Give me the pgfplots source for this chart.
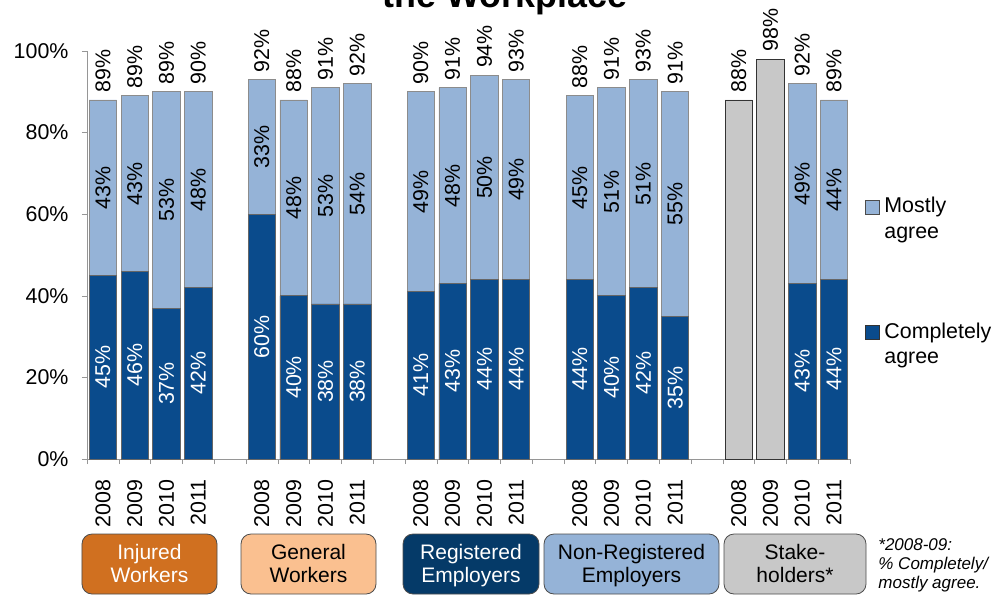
\documentclass[border=0pt]{standalone}
\usepackage{fontspec}
\setmainfont{Liberation Sans}
\usepackage{pgfplots}
\usepackage{pgfplotstable}
\pgfplotsset{compat=1.18}

\definecolor{darkbar}{RGB}{10,75,140}
\definecolor{lightbar}{RGB}{149,179,215}
\definecolor{greybar}{RGB}{200,200,200}
\definecolor{injured}{RGB}{208,112,32}
\definecolor{general}{RGB}{250,192,144}
\definecolor{registered}{RGB}{5,58,104}
\definecolor{axisgrey}{RGB}{150,150,150}

% x = slot, c = completely agree, m = mostly agree, t = total label
\pgfplotstableread{
x c m t
0 45 43 89
1 46 43 89
2 37 53 89
3 42 48 90
5 60 33 92
6 40 48 88
7 38 53 91
8 38 54 92
10 41 49 90
11 43 48 91
12 44 50 94
13 44 49 93
15 44 45 88
16 40 51 91
17 42 51 93
18 35 55 91
22 43 49 92
23 44 44 89
}\agree

% stakeholders 2008-09: completely/mostly combined
\pgfplotstableread{
x t
20 88
21 98
}\stake

\begin{document}
\fontsize{10.7pt}{12.8pt}\selectfont
\begin{tikzpicture}
\begin{axis}[
    scale only axis,
    width=381.5pt, height=204pt,
    xmin=-0.5, xmax=23.5,
    ymin=0, ymax=100,
    axis x line*=bottom,
    axis y line*=left,
    axis line style={axisgrey},
    clip=false,
    ytick={0,20,40,60,80,100},
    yticklabel={\pgfmathprintnumber{\tick}\%},
    /pgf/number format/assume math mode=true,
    major tick length=2.5pt,
    minor tick length=2.5pt,
    tick align=outside,
    ytick style={axisgrey},
    yticklabel style={xshift=-3pt},
    xtick={0,1,2,3,5,6,7,8,10,11,12,13,15,16,17,18,20,21,22,23},
    xticklabels={2008,2009,2010,2011,2008,2009,2010,2011,2008,2009,2010,2011,
                 2008,2009,2010,2011,2008,2009,2010,2011},
    xticklabel style={rotate=90, anchor=east, xshift=-4pt},
    major x tick style={draw=none},
    minor xtick={-0.5,0.5,...,23.5},
    minor x tick style={axisgrey},
]
% mostly agree, stacked on top of completely agree
\addplot[ybar, bar width=0.86, bar shift=0pt, fill=lightbar, draw=black!45]
  table[x=x, y expr=\thisrow{c}+\thisrow{m}] {\agree};
\addplot[ybar, bar width=0.86, bar shift=0pt, fill=darkbar, draw=black!60]
  table[x=x, y=c] {\agree};
\addplot[ybar, bar width=0.86, bar shift=0pt, fill=greybar, draw=black!80]
  table[x=x, y=t] {\stake};

% labels inside the bars
\addplot[draw=none, mark=none, point meta=explicit symbolic,
    nodes near coords={\pgfplotspointmeta\%},
    every node near coord/.style={rotate=90, anchor=center, text=white}]
  table[x=x, y expr=\thisrow{c}/2, meta=c] {\agree};
\addplot[draw=none, mark=none, point meta=explicit symbolic,
    nodes near coords={\pgfplotspointmeta\%},
    every node near coord/.style={rotate=90, anchor=center, text=black}]
  table[x=x, y expr=\thisrow{c}+\thisrow{m}/2, meta=m] {\agree};
% totals above the bars
\addplot[draw=none, mark=none, point meta=explicit symbolic,
    nodes near coords={\pgfplotspointmeta\%},
    every node near coord/.style={rotate=90, anchor=west, text=black}]
  table[x=x, y expr=\thisrow{c}+\thisrow{m}, meta=t] {\agree};
\addplot[draw=none, mark=none, point meta=explicit symbolic,
    nodes near coords={\pgfplotspointmeta\%},
    every node near coord/.style={rotate=90, anchor=west, text=black}]
  table[x=x, y=t, meta=t] {\stake};
\end{axis}

% title (cut off by the page edge, as in the source)
\node[anchor=base, font=\fontsize{17.9pt}{20pt}\selectfont\bfseries]
  at (209pt,225.75pt) {the Workplace};

% legend (base anchor of a multi-line node = last line)
\draw[fill=lightbar, draw=black!70] (389pt,122.5pt) rectangle (396pt,129.5pt);
\node[anchor=base west, align=left, inner sep=0pt, font=\fontsize{10.7pt}{12.5pt}\selectfont]
  at (398.5pt,110.5pt) {Mostly\\agree};
\draw[fill=darkbar, draw=black!80] (389pt,60pt) rectangle (396pt,67pt);
\node[anchor=base west, align=left, inner sep=0pt, font=\fontsize{10.7pt}{12.5pt}\selectfont]
  at (398.5pt,48pt) {Completely\\agree};

% group boxes
\tikzset{grp/.style={draw=black!70, rounded corners=5pt},
  grptext/.style={anchor=base, align=center, inner sep=0pt,
  font=\fontsize{10.5pt}{11.5pt}\selectfont}}
\draw[grp, fill=injured] (-2.5pt,-67.5pt) rectangle (65pt,-37.5pt);
\node[grptext, text=white] at (31.25pt,-61.5pt) {Injured\\Workers};
\draw[grp, fill=general] (77pt,-67.5pt) rectangle (144.5pt,-37.5pt);
\node[grptext] at (110.75pt,-61.5pt) {General\\Workers};
\draw[grp, fill=registered] (158pt,-67.5pt) rectangle (226pt,-37.5pt);
\node[grptext, text=white] at (192pt,-61.5pt) {Registered\\Employers};
\draw[grp, fill=lightbar] (228.5pt,-67.5pt) rectangle (316pt,-37.5pt);
\node[grptext] at (272.25pt,-61.5pt) {Non-Registered\\Employers};
\draw[grp, fill=greybar] (318.5pt,-67.5pt) rectangle (389.5pt,-37.5pt);
\node[grptext] at (354pt,-61.5pt) {Stake-\\holders*};

% footnote
\node[anchor=base west, align=left, inner sep=0pt,
  font=\fontsize{8.5pt}{9.5pt}\selectfont\itshape]
  at (395.5pt,-64.5pt) {*2008-09:\\\% Completely/\\mostly agree.};

\pgfresetboundingbox
\useasboundingbox (-43.5pt,-68pt) rectangle (456pt,229.5pt);
\end{tikzpicture}
\end{document}
